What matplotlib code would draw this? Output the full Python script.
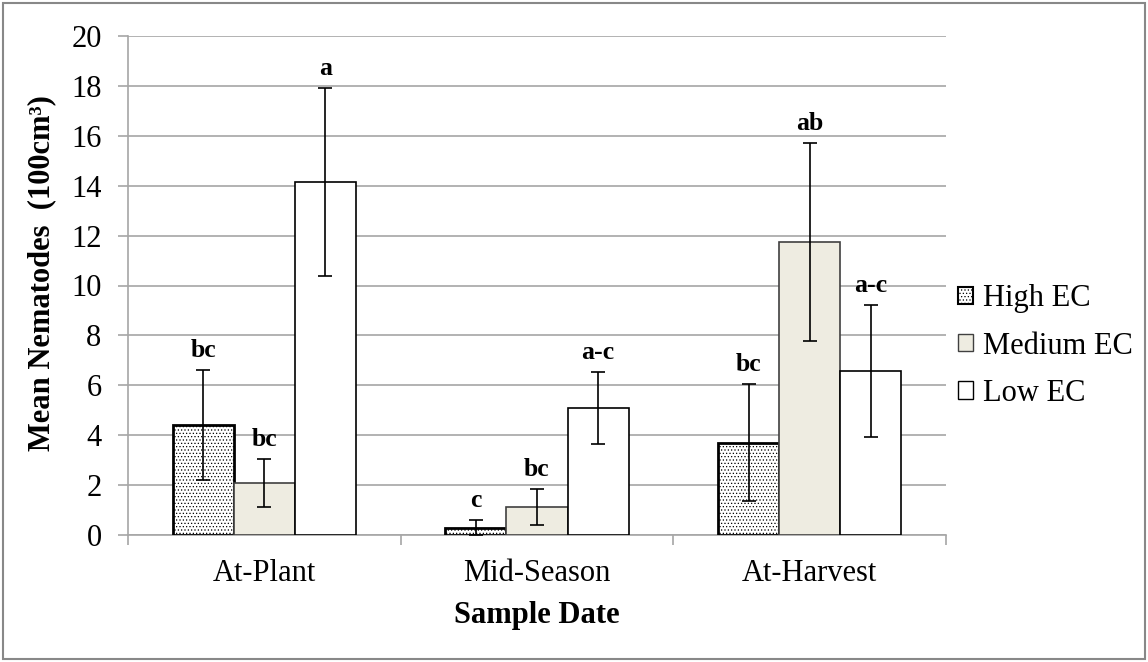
import matplotlib
matplotlib.use('Agg')
import matplotlib.pyplot as plt
from matplotlib.patches import Rectangle, Patch
import numpy as np

# data
dates = ['At-Plant', 'Mid-Season', 'At-Harvest']
series = ['High EC', 'Medium EC', 'Low EC']
high_ec = [4.41, 0.30, 3.70]
medium_ec = [2.08, 1.12, 11.74]
low_ec = [14.15, 5.10, 6.57]
high_err = [2.20, 0.30, 2.35]
medium_err = [0.97, 0.72, 3.97]
low_err = [3.75, 1.45, 2.65]
high_lbl = ['bc', 'c', 'bc']
medium_lbl = ['bc', 'bc', 'ab']
low_lbl = ['a', 'a-c', 'a-c']

plt.rcParams['font.family'] = ['Liberation Serif', 'DejaVu Serif']
plt.rcParams['hatch.linewidth'] = 0.5

fig = plt.figure(figsize=(11.48, 6.62), dpi=100)
ax = fig.add_axes([128 / 1148, 1 - 535 / 662, (946 - 128) / 1148, (535 - 36) / 662])

# outer frame of the chart area
fig.patches.append(Rectangle((3 / 1148, 3 / 662), 1 - 6 / 1148, 1 - 6 / 662,
                             transform=fig.transFigure, fill=False,
                             edgecolor='#888888', linewidth=1.5))

x = np.arange(len(dates))
w = 0.224
styles = [
    dict(facecolor='white', edgecolor='black', linewidth=2.0, hatch='.....'),
    dict(facecolor='#EEECE1', edgecolor='#404040', linewidth=1.2),
    dict(facecolor='white', edgecolor='black', linewidth=1.2),
]
values = [high_ec, medium_ec, low_ec]
errors = [high_err, medium_err, low_err]
labels = [high_lbl, medium_lbl, low_lbl]

for i in range(3):
    pos = x + (i - 1) * w
    ax.bar(pos, values[i], w, zorder=3, **styles[i])
    ax.errorbar(pos, values[i], yerr=errors[i], fmt='none', ecolor='black',
                elinewidth=1.2, capsize=4.7, capthick=1.2, zorder=4)
    for j in range(3):
        ax.annotate(labels[i][j], (pos[j], values[i][j] + errors[i][j]),
                    xytext=(0, 14), textcoords='offset points',
                    ha='center', va='center', fontsize=18.5, fontweight='bold')

ax.set_xlim(-0.5, 2.5)
ax.set_ylim(0, 20)
ax.set_yticks(range(0, 21, 2))
ax.yaxis.grid(True, color='#a6a6a6', linewidth=1.2)
ax.set_axisbelow(True)

ax.set_xticks(x)
ax.set_xticklabels(dates)
ax.set_xticks([-0.5, 0.5, 1.5, 2.5], minor=True)
ax.tick_params(axis='x', which='major', length=0, pad=17, labelsize=22)
ax.tick_params(axis='x', which='minor', length=7, width=1.2, color='#a6a6a6',
               direction='out')
ax.tick_params(axis='y', length=7, width=1.2, color='#a6a6a6', pad=12,
               labelsize=22)

for s in ['top', 'right']:
    ax.spines[s].set_visible(False)
for s in ['left', 'bottom']:
    ax.spines[s].set_color('#a6a6a6')
    ax.spines[s].set_linewidth(1.2)

ax.set_xlabel('Sample Date', fontsize=22, fontweight='bold', va='center')
ax.xaxis.set_label_coords(0.5, -(616 - 535) / 499)
ax.set_ylabel('Mean Nematodes  (100cm\u00b3)', fontsize=22, fontweight='bold',
              va='center')
ax.yaxis.set_label_coords(-(128 - 42) / 818, 0.525)

handles = [Patch(facecolor='white', edgecolor='black', linewidth=1.5, hatch='.....'),
           Patch(facecolor='#EEECE1', edgecolor='#404040', linewidth=1.0),
           Patch(facecolor='white', edgecolor='black', linewidth=1.0)]
fig.legend(handles, series, loc='center left',
           bbox_to_anchor=(958 / 1148, 1 - 346 / 662), frameon=False,
           fontsize=22, handlelength=0.5, handleheight=0.5, borderpad=0,
           handletextpad=0.33, labelspacing=0.6, borderaxespad=0)

fig.savefig('out.png', dpi=100)
